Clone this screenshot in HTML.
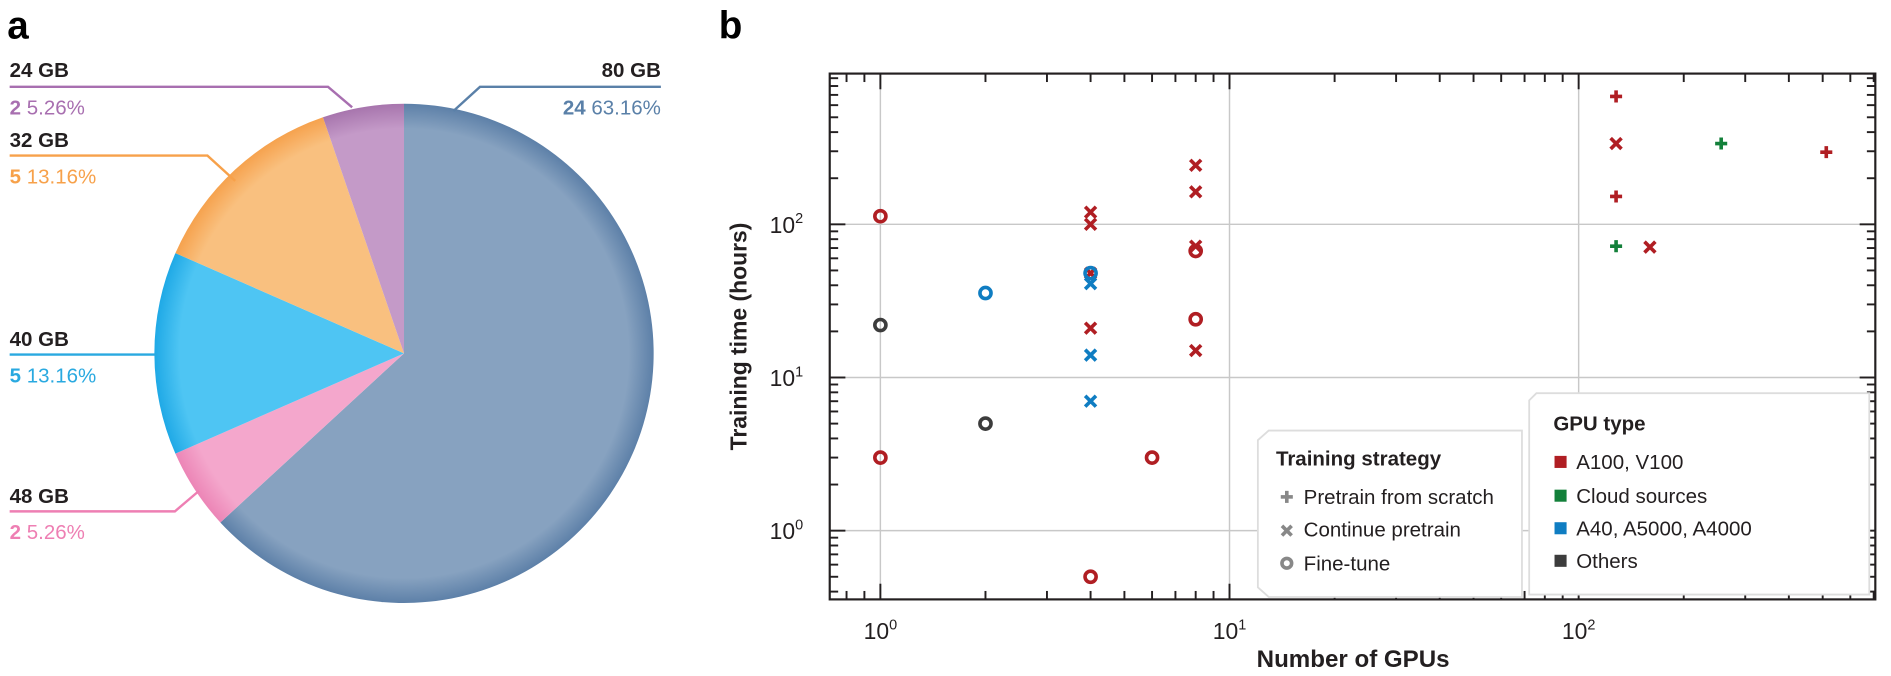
<!DOCTYPE html>
<html><head><meta charset="utf-8"><style>
html,body{margin:0;padding:0;background:#fff}
svg{display:block;font-family:"Liberation Sans",sans-serif}
</style></head><body>
<svg id="fig" width="1891" height="676" viewBox="0 0 1568 560.5" xmlns="http://www.w3.org/2000/svg">
<defs>
<radialGradient id="g80" gradientUnits="userSpaceOnUse" cx="335" cy="293" r="207"><stop offset="0.9" stop-color="#87a2c0"/><stop offset="1" stop-color="#5d80a8"/></radialGradient>
<radialGradient id="g48" gradientUnits="userSpaceOnUse" cx="335" cy="293" r="207"><stop offset="0.9" stop-color="#f4a7cc"/><stop offset="1" stop-color="#ec85b6"/></radialGradient>
<radialGradient id="g40" gradientUnits="userSpaceOnUse" cx="335" cy="293" r="207"><stop offset="0.9" stop-color="#4ec5f3"/><stop offset="1" stop-color="#1fa9e6"/></radialGradient>
<radialGradient id="g32" gradientUnits="userSpaceOnUse" cx="335" cy="293" r="207"><stop offset="0.9" stop-color="#f9c07f"/><stop offset="1" stop-color="#f6a24e"/></radialGradient>
<radialGradient id="g24" gradientUnits="userSpaceOnUse" cx="335" cy="293" r="207"><stop offset="0.9" stop-color="#c49ac8"/><stop offset="1" stop-color="#a775ad"/></radialGradient>
</defs>
<text x="6" y="32" font-size="32" font-weight="bold" fill="#000">a</text>
<text x="596" y="32" font-size="32" font-weight="bold" fill="#000">b</text>
<g id="pie"></g>
<g id="pielabels" font-size="17">
<text x="8" y="64" font-weight="bold" fill="#231f20">24 GB</text>
<polyline points="8,72 272,72 292,89" fill="none" stroke="#a86fb0" stroke-width="2"/>
<text x="8" y="95" fill="#a86fb0"><tspan font-weight="bold">2</tspan>  5.26%</text>
<text x="8" y="122" font-weight="bold" fill="#231f20">32 GB</text>
<polyline points="8,129 172,129 195,150" fill="none" stroke="#f7a14a" stroke-width="2"/>
<text x="8" y="152" fill="#f7a14a"><tspan font-weight="bold">5</tspan>  13.16%</text>
<text x="8" y="287" font-weight="bold" fill="#231f20">40 GB</text>
<polyline points="8,294 130,294" fill="none" stroke="#29a9e0" stroke-width="2"/>
<text x="8" y="317" fill="#29a9e0"><tspan font-weight="bold">5</tspan>  13.16%</text>
<text x="8" y="417" font-weight="bold" fill="#231f20">48 GB</text>
<polyline points="8,424 145,424 165,407" fill="none" stroke="#ee7fb3" stroke-width="2"/>
<text x="8" y="447" fill="#ee7fb3"><tspan font-weight="bold">2</tspan>  5.26%</text>
<text x="548" y="64" font-weight="bold" fill="#231f20" text-anchor="end">80 GB</text>
<polyline points="548,72 398,72 376,92" fill="none" stroke="#5a80a8" stroke-width="2"/>
<text x="548" y="95" fill="#5a80a8" text-anchor="end"><tspan font-weight="bold">24</tspan>  63.16%</text>
</g>
<g id="plot"></g>
<text x="1122" y="553" font-size="20" font-weight="bold" text-anchor="middle" fill="#231f20">Number of GPUs</text>
<text transform="translate(619,279) rotate(-90)" font-size="19" font-weight="bold" text-anchor="middle" fill="#231f20">Training time (hours)</text>
<g font-size="17" fill="#231f20">
<path d="M1052,357 L1262,357 L1262,495 L1052,495 L1043,487 L1043,365 Z" fill="#fff" stroke="#ddd" stroke-width="1.5"/>
<text x="1058" y="386" font-weight="bold">Training strategy</text>
<g stroke="#888" stroke-width="3"><line x1="1062" y1="412" x2="1072" y2="412"/><line x1="1067" y1="407" x2="1067" y2="417"/>
<line x1="1063" y1="436" x2="1071" y2="444"/><line x1="1071" y1="436" x2="1063" y2="444"/></g>
<circle cx="1067" cy="467" r="4" fill="none" stroke="#888" stroke-width="3"/>
<text x="1081" y="418">Pretrain from scratch</text>
<text x="1081" y="445">Continue pretrain</text>
<text x="1081" y="473">Fine-tune</text>
</g>
<g font-size="17" fill="#231f20">
<path d="M1274,326 L1550,326 L1550,493 L1268,493 L1268,332 Z" fill="#fff" stroke="#ddd" stroke-width="1.5"/>
<text x="1288" y="357" font-weight="bold">GPU type</text>
<rect x="1289" y="378" width="10" height="10" fill="#b01e23"/>
<rect x="1289" y="406" width="10" height="10" fill="#13803a"/>
<rect x="1289" y="433" width="10" height="10" fill="#0f7dc2"/>
<rect x="1289" y="460" width="10" height="10" fill="#3c3c3c"/>
<text x="1307" y="389">A100, V100</text>
<text x="1307" y="417">Cloud sources</text>
<text x="1307" y="444">A40, A5000, A4000</text>
<text x="1307" y="471">Others</text>
</g>
</svg>
<script>
// pie data
const pieLabels = ["80 GB","48 GB","40 GB","32 GB","24 GB"];
const pieCounts = [24, 2, 5, 5, 2];
// scatter data: gpus, hours, strategy (p=pretrain, x=continue, o=fine-tune), gpu type
const ptGpus   = [1,   1,  6,  4,   8,  8,  4,  4,  4,  4,  8,  8,  8,  8,  160, 128, 128, 128, 512, 128, 256, 4,  2,    4,  4,  4, 1,  2];
const ptHours  = [113, 3,  3,  0.5, 67, 24, 120,100,48, 21, 243,163,72, 15, 71,  337, 684, 152, 296, 72,  337, 48, 35.6, 41, 14, 7, 22, 5];
const ptStrat  = ["o","o","o","o","o","o","x","x","x","x","x","x","x","x","x","x","p","p","p","p","p","o","o","x","x","x","o","o"];
const ptType   = ["r","r","r","r","r","r","r","r","r","r","r","r","r","r","r","r","r","r","r","g","g","b","b","b","b","b","k","k"];
const xTickVals = [1, 10, 100];
const yTickVals = [1, 10, 100];
const xTickExp = ["0","1","2"];
const yTickExp = ["0","1","2"];

const NS="http://www.w3.org/2000/svg";
function mk(tag,attrs,parent){const e=document.createElementNS(NS,tag);for(const k in attrs)e.setAttribute(k,attrs[k]);parent.appendChild(e);return e;}
const pieG=document.getElementById('pie');
const cx=335,cy=293,R=207;
const fills=["url(#g80)","url(#g48)","url(#g40)","url(#g32)","url(#g24)"];
const total=pieCounts.reduce((a,b)=>a+b,0);
let ang=0;
pieCounts.forEach((c,i)=>{
  const a0=ang, a1=ang+c/total*2*Math.PI; ang=a1;
  const x0=cx+R*Math.sin(a0),y0=cy-R*Math.cos(a0),x1=cx+R*Math.sin(a1),y1=cy-R*Math.cos(a1);
  const large=(a1-a0)>Math.PI?1:0;
  const p=mk('path',{d:`M${cx},${cy} L${x0},${y0} A${R},${R} 0 ${large} 1 ${x1},${y1} Z`,fill:fills[i]},pieG);
  
  
});
const L=688,Rr=1555,T=61,B=497;
const X0=730,XD=289.5,Y0=440,YD=127;
const xs=v=>X0+Math.log10(v)*XD;
const ys=v=>Y0-Math.log10(v)*YD;
const plot=document.getElementById('plot');
xTickVals.forEach(v=>{const l=mk('line',{x1:xs(v),x2:xs(v),y1:T,y2:B,stroke:'#c8c8c8','stroke-width':1.2},plot);

});
yTickVals.forEach(v=>{const l=mk('line',{x1:L,x2:Rr,y1:ys(v),y2:ys(v),stroke:'#c8c8c8','stroke-width':1.2},plot);

});
for(let d=-1;d<=2;d++){for(let m=1;m<=9;m++){const v=m*Math.pow(10,d);const x=xs(v);if(x<L||x>Rr)continue;const len=m==1?13:7;
mk('line',{x1:x,x2:x,y1:B,y2:B-len,stroke:'#231f20','stroke-width':1.6},plot);
mk('line',{x1:x,x2:x,y1:T,y2:T+len,stroke:'#231f20','stroke-width':1.6},plot);}}
for(let d=-1;d<=2;d++){for(let m=1;m<=9;m++){const v=m*Math.pow(10,d);const y=ys(v);if(y<T||y>B)continue;const len=m==1?13:7;
mk('line',{x1:L,x2:L+len,y1:y,y2:y,stroke:'#231f20','stroke-width':1.6},plot);
mk('line',{x1:Rr,x2:Rr-len,y1:y,y2:y,stroke:'#231f20','stroke-width':1.6},plot);}}
const fr=mk('rect',{x:L,y:T,width:Rr-L,height:B-T,fill:'none',stroke:'#231f20','stroke-width':1.8},plot);


xTickVals.forEach((v,i)=>{const t=mk('text',{x:xs(v),y:B+33,'font-size':19,'text-anchor':'middle',fill:'#231f20'},plot);


t.innerHTML='10<tspan dy="-8" font-size="12">'+xTickExp[i]+'</tspan>';});
yTickVals.forEach((v,i)=>{const t=mk('text',{x:L-22,y:ys(v)+7,'font-size':19,'text-anchor':'end',fill:'#231f20'},plot);


t.innerHTML='10<tspan dy="-8" font-size="12">'+yTickExp[i]+'</tspan>';});
const colors={r:'#b01e23',g:'#13803a',b:'#0f7dc2',k:'#3c3c3c'};
ptGpus.forEach((g,i)=>{
  const x=xs(g),y=ys(ptHours[i]),c=colors[ptType[i]],s=ptStrat[i];
  let e;
  if(s==='o'){e=mk('circle',{cx:x,cy:y,r:4.6,fill:'none',stroke:c,'stroke-width':3},plot);}
  else if(s==='x'){e=mk('path',{d:`M${x-4.5},${y-4.5}L${x+4.5},${y+4.5}M${x+4.5},${y-4.5}L${x-4.5},${y+4.5}`,stroke:c,'stroke-width':3,fill:'none'},plot);}
  else {e=mk('path',{d:`M${x-5},${y}L${x+5},${y}M${x},${y-5}L${x},${y+5}`,stroke:c,'stroke-width':3,fill:'none'},plot);}
  
  
});
</script>
</body></html>
